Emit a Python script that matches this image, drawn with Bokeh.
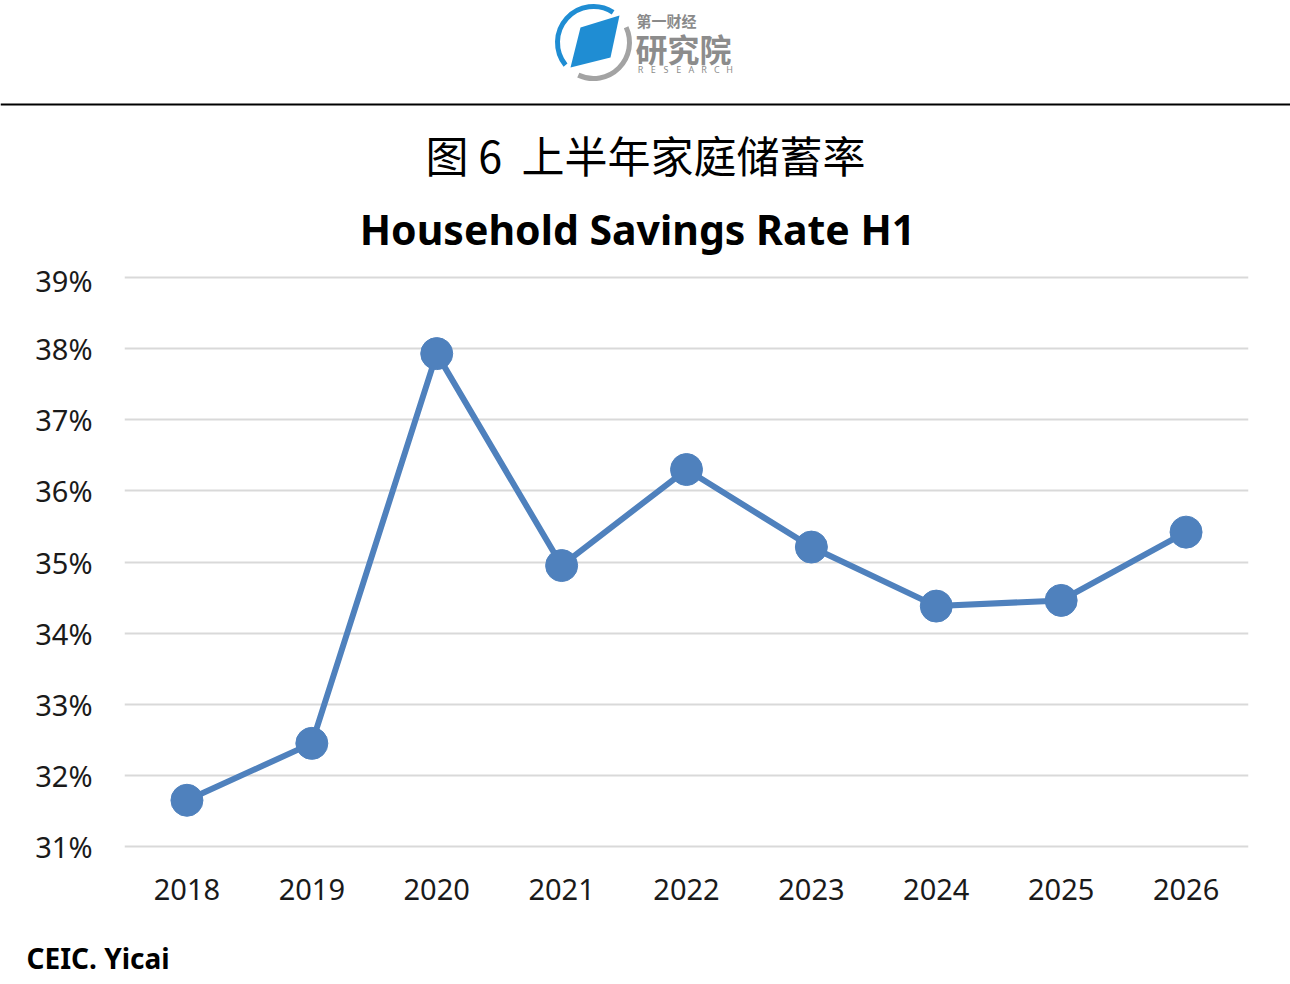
from bokeh.plotting import figure
from bokeh.models import Range1d, FactorRange, FixedTicker, ColumnDataSource
from bokeh.layouts import column
from bokeh.embed import file_html
from bokeh.resources import INLINE
from bokeh.core.properties import value
import numpy as np

# ---------------- data ----------------
years = ["2018", "2019", "2020", "2021", "2022", "2023", "2024", "2025", "2026"]
savings_rate = [31.65, 32.45, 37.93, 34.95, 36.30, 35.21, 34.38, 34.46, 35.42]
y_ticks = [31, 32, 33, 34, 35, 36, 37, 38, 39]
y_tick_labels = ["31%", "32%", "33%", "34%", "35%", "36%", "37%", "38%", "39%"]
title_cn = "图\u00a06\u00a0\u00a0上半年家庭储蓄率"
title_en = "Household Savings Rate H1"
source_text = "CEIC. Yicai"
logo_cn_small = "第一财经"
logo_cn_big = "研究院"
logo_en = "RESEARCH"

W = 1290
LINE_BLUE = "#4F81BD"
LOGO_BLUE = "#1F8DD3"
LOGO_GREY = "#A3A3A3"
SANS = "Noto Sans"
CJK = "Noto Sans CJK SC"

def blank(height, y0, y1):
    f = figure(width=W, height=height, x_range=Range1d(0, W), y_range=Range1d(-y1, -y0),
               output_backend="svg", toolbar_location=None,
               x_axis_location=None, y_axis_location=None, min_border=0,
               outline_line_color=None, frame_align=False)
    f.grid.visible = False
    return f

# ---------------- header ----------------
hdr = blank(260, 0, 260)
# logo ring
hdr.arc(x=[593], y=[-42], radius=36, start_angle=np.deg2rad(57), end_angle=np.deg2rad(219),
        direction="anticlock", line_color=LOGO_BLUE, line_width=5)
hdr.arc(x=[593], y=[-42], radius=36, start_angle=np.deg2rad(245), end_angle=np.deg2rad(385),
        direction="anticlock", line_color=LOGO_GREY, line_width=5)
hdr.patch(x=[580, 619, 610, 570], y=[-27, -15, -57, -67], fill_color=LOGO_BLUE, line_color=None)
hdr.text(x=[636], y=[-20], text=[logo_cn_small], text_font=value(CJK), text_font_size="15px",
         text_font_style="bold", text_color="#8A8A8A", text_align="left", text_baseline="middle")
hdr.text(x=[635], y=[-47], text=[logo_cn_big], text_font=value(CJK), text_font_size="32px",
         text_font_style="bold", text_color="#8C8C8C", text_align="left", text_baseline="middle")
lx = np.linspace(640, 729, len(logo_en))
hdr.text(x=lx, y=[-69] * len(logo_en), text=list(logo_en), text_font=value(SANS), text_font_size="9px",
         text_color="#8C8C8C", text_align="center", text_baseline="middle")
# separator line
hdr.segment(x0=[0], y0=[-104], x1=[W], y1=[-104], line_color="black", line_width=2)
# titles
hdr.text(x=[645], y=[-153], text=[title_cn], text_font=value(CJK), text_font_size="43px",
         text_color="black", text_align="center", text_baseline="middle")
hdr.text(x=[637], y=[-228], text=[title_en], text_font=value(SANS), text_font_size="41px",
         text_font_style="bold", text_color="black", text_align="center", text_baseline="middle")

# ---------------- chart ----------------
src = ColumnDataSource(dict(year=years, rate=savings_rate))
px_per = (846 - 277) / 8.0
pad = 4 / px_per
p = figure(width=W, height=670, x_range=FactorRange(factors=years),
           y_range=Range1d(y_ticks[0] - pad, y_ticks[-1] + pad),
           output_backend="svg", toolbar_location=None,
           min_border_left=124, min_border_right=42, min_border_top=13, min_border_bottom=80,
           outline_line_color=None, frame_align=False)
p.line("year", "rate", source=src, line_color=LINE_BLUE, line_width=6)
p.scatter("year", "rate", source=src, size=32, fill_color=LINE_BLUE, line_color=LINE_BLUE)

p.yaxis.ticker = FixedTicker(ticks=y_ticks)
p.yaxis.major_label_overrides = {t: l for t, l in zip(y_ticks, y_tick_labels)}
for ax in (p.xaxis, p.yaxis):
    ax.axis_line_color = None
    ax.major_tick_line_color = None
    ax.minor_tick_line_color = None
    ax.major_label_text_font = SANS
    ax.major_label_text_font_size = "29px"
    ax.major_label_text_color = "#1A1A1A"
p.yaxis.major_label_standoff = 26
p.xaxis.major_label_standoff = 22
p.xgrid.visible = False
p.ygrid.grid_line_color = "#D9D9D9"
p.ygrid.grid_line_width = 2

# ---------------- footer ----------------
ftr = blank(54, 930, 984)
ftr.text(x=[26], y=[-957], text=[source_text], text_font=value(SANS), text_font_size="28px",
         text_font_style="bold", text_color="black", text_align="left", text_baseline="middle")

layout = column(hdr, p, ftr)
open("out.html", "w").write(file_html(layout, INLINE))
